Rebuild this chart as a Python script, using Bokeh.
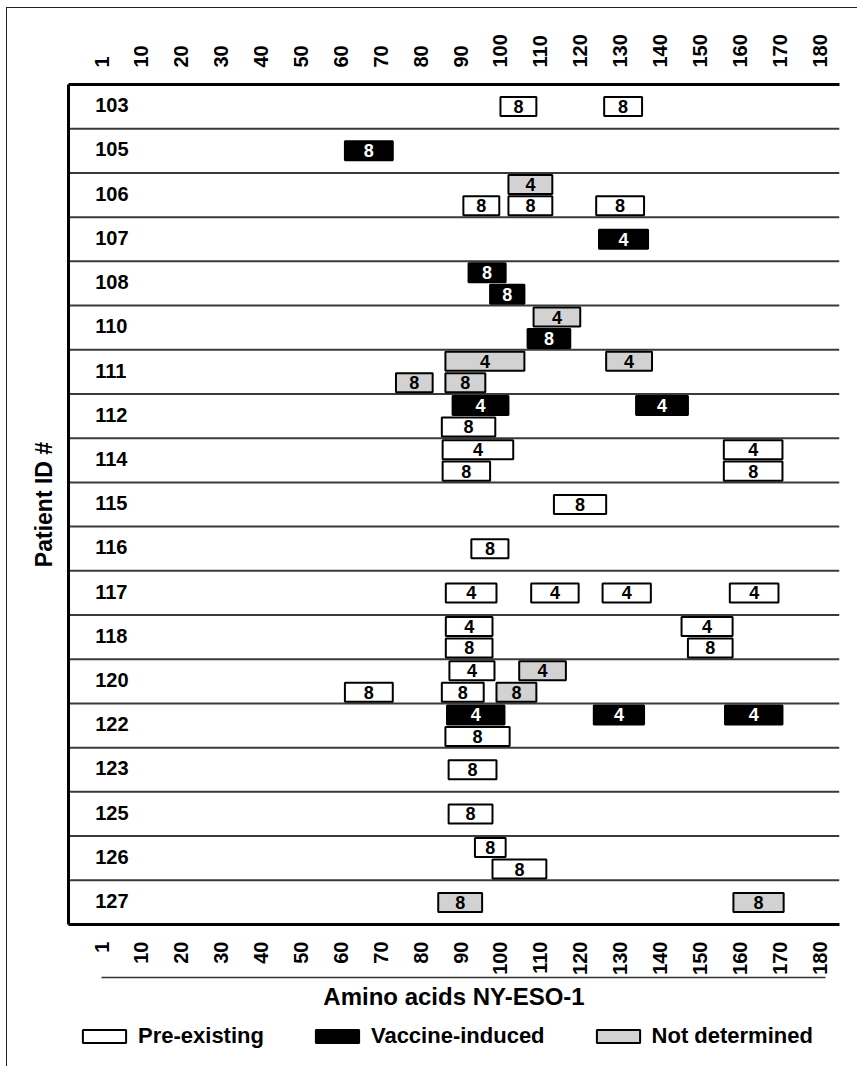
from bokeh.plotting import figure
from bokeh.layouts import column
from bokeh.models import (Range1d, FixedTicker, LinearAxis, Legend, LegendItem,
                          ColumnDataSource)
from bokeh.core.properties import value
from bokeh.embed import file_html
from bokeh.resources import INLINE

# ---------------- data ----------------
patients = ["103", "105", "106", "107", "108", "110", "111", "112", "114", "115",
            "116", "117", "118", "120", "122", "123", "125", "126", "127"]

tick_values = list(range(0, 181, 10))
tick_labels = ["1", "10", "20", "30", "40", "50", "60", "70", "80", "90", "100",
               "110", "120", "130", "140", "150", "160", "170", "180"]

# one entry per peptide box
box_patient = ["103", "103",
               "105",
               "106", "106", "106", "106",
               "107",
               "108", "108",
               "110", "110",
               "111", "111", "111", "111",
               "112", "112", "112",
               "114", "114", "114", "114",
               "115",
               "116",
               "117", "117", "117", "117",
               "118", "118", "118", "118",
               "120", "120", "120", "120", "120",
               "122", "122", "122", "122",
               "123",
               "125",
               "126", "126",
               "127", "127"]
box_start = [100, 126,
             61,
             102, 90.7, 102, 124,
             124.7,
             92, 97.4,
             108.3, 106.8,
             86.2, 126.5, 73.8, 86.2,
             88, 134, 85.3,
             85.5, 156, 85.5, 156,
             113.4,
             92.7,
             86.3, 107.7, 125.6, 157.5,
             86.3, 145.4, 86.3, 147,
             87.2, 104.7, 61, 85.3, 99,
             86.6, 123.4, 156.3, 86.2,
             87,
             87,
             93.6, 98,
             84.4, 158.4]
box_end = [109, 135.5,
           73,
           113, 99.7, 113, 136,
           137,
           101.3, 106,
           120, 117.5,
           106, 138, 83, 96.2,
           102, 147, 98.7,
           103.2, 170.7, 97.4, 170.7,
           126.5,
           102,
           99, 119.6, 137.7, 169.7,
           98, 158.2, 98, 158.2,
           98.5, 116.4, 73, 95.8, 109,
           101, 136, 170.7, 102.3,
           99,
           98,
           101.3, 111.5,
           95.4, 171]
box_kind = ["pre", "pre",
            "vac",
            "nd", "pre", "pre", "pre",
            "vac",
            "vac", "vac",
            "nd", "vac",
            "nd", "nd", "nd", "nd",
            "vac", "vac", "pre",
            "pre", "pre", "pre", "pre",
            "pre",
            "pre",
            "pre", "pre", "pre", "pre",
            "pre", "pre", "pre", "pre",
            "pre", "nd", "pre", "pre", "nd",
            "vac", "vac", "vac", "pre",
            "pre",
            "pre",
            "pre", "pre",
            "nd", "nd"]
box_label = ["8", "8",
             "8",
             "4", "8", "8", "8",
             "4",
             "8", "8",
             "4", "8",
             "4", "4", "8", "8",
             "4", "4", "8",
             "4", "4", "8", "8",
             "8",
             "8",
             "4", "4", "4", "4",
             "4", "4", "8", "8",
             "4", "4", "8", "8", "8",
             "4", "4", "4", "8",
             "8",
             "8",
             "8", "8",
             "8", "8"]
# sub-row of the patient row: single (centred), upper or lower
box_slot = ["single", "single",
            "single",
            "upper", "lower", "lower", "lower",
            "single",
            "upper", "lower",
            "upper", "lower",
            "upper", "upper", "lower", "lower",
            "upper", "upper", "lower",
            "upper", "upper", "lower", "lower",
            "single",
            "single",
            "single", "single", "single", "single",
            "upper", "upper", "lower", "lower",
            "upper", "upper", "lower", "lower", "lower",
            "upper", "upper", "upper", "lower",
            "single",
            "single",
            "upper", "lower",
            "single", "single"]

kinds = ["pre", "vac", "nd"]
kind_names = ["Pre-existing", "Vaccine-induced", "Not determined"]

# ---------------- styling ----------------
FONT = "Liberation Sans"
fill_of = {"pre": "white", "vac": "black", "nd": "#d2d2d2"}
text_of = {"pre": "black", "vac": "white", "nd": "black"}
slot_center = {"single": 0.5, "upper": 0.26, "lower": 0.745}
half_h = 0.215

X0, X1 = -8.3, 185.0
n_rows = len(patients)

p = figure(width=850, height=1014,
           x_range=Range1d(X0, X1), y_range=Range1d(n_rows, 0),
           output_backend="svg", toolbar_location=None,
           min_border_left=61, min_border_top=76, min_border_right=18,
           min_border_bottom=98, background_fill_color="white",
           border_fill_color="white", outline_line_color=None)
p.grid.visible = False

# row separators
sep_y = list(range(1, n_rows))
p.segment(x0=[X0] * len(sep_y), x1=[X1] * len(sep_y), y0=sep_y, y1=sep_y,
          line_color="#3a3a3a", line_width=2)

# patient labels
p.text(x=[-1.6] * n_rows, y=[i + 0.47 for i in range(n_rows)], text=patients,
       text_font=value(FONT), text_font_style="bold", text_font_size="20px",
       text_align="left", text_baseline="middle", text_color="black")

# boxes
row_index = {pid: i for i, pid in enumerate(patients)}
sources = {}
for k in kinds:
    idx = [i for i, kk in enumerate(box_kind) if kk == k]
    yc = [row_index[box_patient[i]] + slot_center[box_slot[i]] for i in idx]
    src = ColumnDataSource(dict(
        left=[box_start[i] for i in idx], right=[box_end[i] for i in idx],
        top=[y - half_h for y in yc], bottom=[y + half_h for y in yc],
        xc=[(box_start[i] + box_end[i]) / 2 for i in idx], yc=yc,
        lab=[box_label[i] for i in idx]))
    sources[k] = src
    p.quad(left="left", right="right", top="top", bottom="bottom", source=src,
           fill_color=fill_of[k], line_color="black", line_width=2)
    p.text(x="xc", y="yc", text="lab", source=src, text_font=value(FONT),
           text_font_style="bold", text_font_size="18px", text_align="center",
           text_baseline="middle", text_color=text_of[k])

# axes
overrides = {v: l for v, l in zip(tick_values, tick_labels)}


def style_tick_axis(ax):
    ax.ticker = FixedTicker(ticks=tick_values)
    ax.major_label_overrides = overrides
    ax.major_label_orientation = 3.14159265 / 2
    ax.major_label_standoff = 11
    ax.major_label_text_font = FONT
    ax.major_label_text_font_style = "bold"
    ax.major_label_text_font_size = "20px"
    ax.major_label_text_color = "black"
    ax.major_tick_line_color = None
    ax.minor_tick_line_color = None
    ax.axis_line_width = 3
    ax.axis_line_color = "black"


style_tick_axis(p.xaxis[0])
top_axis = LinearAxis()
style_tick_axis(top_axis)
p.add_layout(top_axis, "above")

# rule + title below the bottom tick labels
title_axis = LinearAxis(ticker=FixedTicker(ticks=[]), bounds=(0, 181.5))
title_axis.axis_line_width = 1.5
title_axis.axis_line_color = "#333333"
title_axis.major_tick_line_color = None
title_axis.minor_tick_line_color = None
title_axis.major_label_text_font_size = "0px"
title_axis.axis_label = "Amino acids NY-ESO-1"
title_axis.axis_label_text_font = FONT
title_axis.axis_label_text_font_style = "bold"
title_axis.axis_label_text_font_size = "24px"
title_axis.axis_label_text_color = "black"
title_axis.axis_label_standoff = 5
p.add_layout(title_axis, "below")

yax = p.yaxis[0]
yax.ticker = FixedTicker(ticks=[])
yax.axis_line_width = 3
yax.axis_line_color = "black"
yax.major_tick_line_color = None
yax.minor_tick_line_color = None
yax.major_tick_out = 0
yax.major_label_standoff = 0
yax.axis_label = "Patient ID #"
yax.axis_label_text_font = FONT
yax.axis_label_text_font_style = "bold"
yax.axis_label_text_font_size = "23px"
yax.axis_label_text_color = "black"
yax.axis_label_standoff = 12

# ---------------- legend strip ----------------
# the strip's ranges lie outside the data, so only the legend keys show
leg = figure(width=850, height=44, x_range=Range1d(-30, -20), y_range=Range1d(0, 1),
             output_backend="svg", toolbar_location=None,
             x_axis_type=None, y_axis_type=None, min_border=0,
             min_border_left=0, min_border_right=0, min_border_top=0,
             min_border_bottom=0,
             outline_line_color=None, background_fill_color="white",
             border_fill_color="white")
leg.grid.visible = False
items = []
for k, n in zip(kinds, kind_names):
    r = leg.quad(left="left", right="right", top="top", bottom="bottom",
                 source=sources[k], fill_color=fill_of[k],
                 line_color="black", line_width=2)
    items.append(LegendItem(label=n, renderers=[r]))
legend = Legend(items=items, orientation="horizontal", location=(9, 17),
                glyph_width=54, glyph_height=16, label_standoff=7, spacing=46,
                padding=0, margin=0, border_line_color=None,
                background_fill_alpha=0, label_text_font=FONT,
                label_text_font_style="bold", label_text_font_size="22px",
                label_text_color="black")
leg.add_layout(legend, "center")

layout = column(p, leg, spacing=0, margin=(7, 0, 0, 6))
layout.styles = {"border-top": "1.5px solid #222222",
                 "border-left": "1.5px solid #222222"}

open("out.html", "w").write(file_html(layout, INLINE))
